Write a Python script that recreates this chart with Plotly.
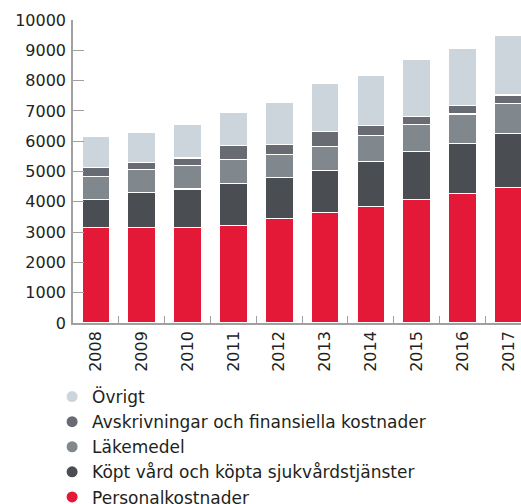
import plotly.graph_objects as go

years = ["2008", "2009", "2010", "2011", "2012", "2013", "2014", "2015", "2016", "2017"]

personal = [3165, 3150, 3150, 3230, 3450, 3660, 3845, 4065, 4285, 4470]
kopt_vard = [900, 1155, 1275, 1385, 1340, 1385, 1475, 1585, 1650, 1795]
lakemedel = [780, 750, 770, 770, 770, 790, 870, 890, 965, 975]
avskrivningar = [300, 250, 250, 470, 330, 480, 320, 275, 285, 285]
ovrigt = [1030, 1000, 1120, 1110, 1375, 1605, 1650, 1870, 1890, 1980]

y_ticks = list(range(0, 10001, 1000))
y_ticktext = [str(v) for v in y_ticks]

# stacked bottom-to-top
series = [
    ("Personalkostnader", personal, "#E31937"),
    ("Köpt vård och köpta sjukvårdstjänster", kopt_vard, "#4A4D52"),
    ("Läkemedel", lakemedel, "#80878D"),
    ("Avskrivningar och finansiella kostnader", avskrivningar, "#686B71"),
    ("Övrigt", ovrigt, "#CDD5DC"),
]

FONT = "DejaVu Sans"
TEXT = "#231F20"

fig = go.Figure()
for name, vals, color in series:
    fig.add_trace(go.Bar(
        x=years, y=vals, name=name, showlegend=False,
        marker=dict(color=color, line=dict(color="white", width=1.2)),
    ))

# legend entries with round markers, top item = Övrigt
for i, (name, vals, color) in enumerate(reversed(series)):
    fig.add_trace(go.Scatter(
        x=[None], y=[None], mode="markers", name=name,
        legendgroup=f"g{i}", legendrank=i,
        marker=dict(symbol="circle", size=11, color=color),
    ))

fig.update_layout(
    width=521, height=504,
    margin=dict(l=73, r=0, t=20, b=181, pad=0, autoexpand=False),
    barmode="stack", bargap=0.39,
    plot_bgcolor="white", paper_bgcolor="white",
    font=dict(family=FONT, size=16, color=TEXT),
    legend=dict(
        orientation="v", traceorder="grouped",
        x=0.1, xref="container", xanchor="left",
        y=0.248, yref="container", yanchor="top",
        font=dict(family=FONT, size=17, color=TEXT),
        tracegroupgap=0, itemwidth=30, bgcolor="rgba(0,0,0,0)",
    ),
)

fig.update_xaxes(
    type="category", range=[-0.5, 9.275], automargin=False,
    showline=True, linecolor="#A0A0A0", linewidth=1.5,
    ticks="inside", tickson="boundaries", ticklen=7, tickcolor="#A0A0A0",
    tickangle=-90, tickfont=dict(size=16, color=TEXT), showgrid=False,
)
fig.update_yaxes(
    range=[0, 10000], tickvals=y_ticks, ticktext=y_ticktext, automargin=False,
    showline=True, linecolor="#A0A0A0", linewidth=1.5,
    ticks="inside", ticklen=11, tickcolor="#A0A0A0", ticklabelstandoff=2,
    tickfont=dict(size=16, color=TEXT), showgrid=False, zeroline=False,
)

fig.write_html("out.html")
